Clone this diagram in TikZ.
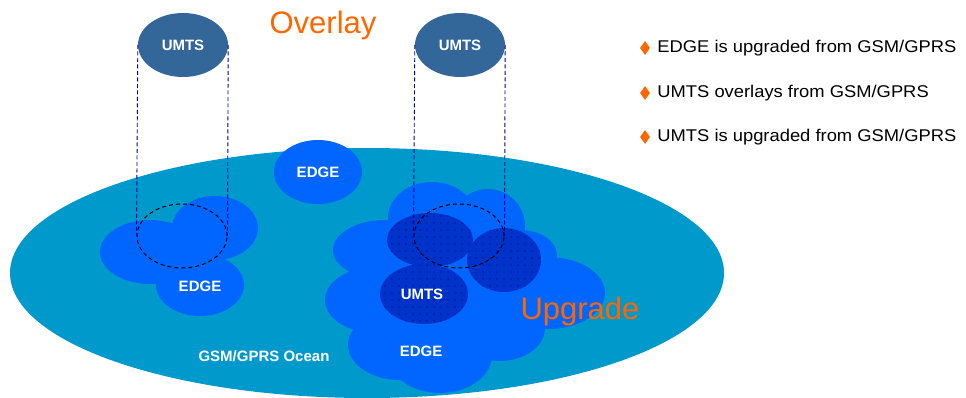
\documentclass[tikz,border=0pt]{standalone}
\usepackage{fontspec}
\setmainfont{Liberation Sans}
\newfontfamily\notefont[FakeStretch=1.08]{Liberation Sans}
\usetikzlibrary{shapes.geometric,positioning,patterns.meta}
\definecolor{ocean}{HTML}{0099CC}
\definecolor{edgeblue}{HTML}{0066FF}
\definecolor{umtsdark}{HTML}{0033CC}
\definecolor{umtstop}{HTML}{336699}
\definecolor{orangetxt}{HTML}{FF6600}
\definecolor{linkblue}{HTML}{000099}
\tikzset{
  lbl/.style={text=white,font=\fontsize{15}{18}\selectfont\bfseries},
  topcell/.style={ellipse,fill=umtstop,minimum width=90pt,minimum height=64pt,inner sep=0pt},
  ring/.style={ellipse,draw=black,line width=1pt,dash pattern=on 4pt off 3pt,
    minimum width=90pt,minimum height=64pt,inner sep=0pt},
  link/.style={draw=linkblue,line width=0.9pt,dash pattern=on 4pt off 2.5pt},
  bigword/.style={text=orangetxt,font=\fontsize{31}{36}\selectfont},
  bullet/.style={diamond,fill=orangetxt,minimum width=10pt,minimum height=14pt,inner sep=0pt},
  item/.style={font=\notefont\fontsize{17}{20}\selectfont,inner sep=0pt,anchor=west}
}
\begin{document}
\begin{tikzpicture}[x=1pt,y=-1pt]
  \useasboundingbox (0,0) rectangle (966,398);
  % the ocean
  \fill[ocean] (367,273) ellipse [x radius=357pt, y radius=125pt];
  % left edge cluster
  \foreach \cx/\cy/\rx/\ry in {150/252/50/32, 215/228/43/32, 200/285/44/31}
    \fill[edgeblue] (\cx,\cy) ellipse [x radius=\rx pt, y radius=\ry pt];
  % lone edge cell
  \fill[edgeblue] (318,172) ellipse [x radius=44pt, y radius=32pt];
  % upgraded cloud
  \foreach \cx/\cy/\rx/\ry in {432/218/44/36, 488/226/37/37, 385/250/52/30,
      375/300/50/33, 400/345/52/35, 440/355/52/38, 500/328/45/33,
      548/293/57/36, 520/255/37/25, 450/290/80/60}
    \fill[edgeblue] (\cx,\cy) ellipse [x radius=\rx pt, y radius=\ry pt];
  \foreach \cx/\cy/\rx/\ry in {430/240/43/27, 504/260/37/32, 424/294/44/30} {
    \fill[umtsdark] (\cx,\cy) ellipse [x radius=\rx pt, y radius=\ry pt];
    \fill[pattern={Dots[distance=7pt,radius=0.7pt]},pattern color=black!75!linkblue]
      (\cx,\cy) ellipse [x radius=\rx pt, y radius=\ry pt];
  }
  % labels
  \node[lbl] (edgeA) at (200,286) {EDGE};
  \node[lbl] (edgeB) at (318,172) {EDGE};
  \node[lbl] (edgeC) at (421,351) {EDGE};
  \node[lbl] (umtsC) at (422,294) {UMTS};
  \node[lbl] (ocean) at (264,356) {GSM/GPRS Ocean};
  \node[bigword] (overlay) at (323,25) {Overlay};
  \node[bigword] (upgrade) at (580,311) {Upgrade};
  % overlay cells
  \node[ring] (ringA) at (182,236) {};
  \node[ring] (ringB) at (459,236) {};
  \node[topcell,lbl] (umtsA) at (183,45) {UMTS};
  \node[topcell,lbl] (umtsB) at (460,45) {UMTS};
  \draw[link] (umtsA.west) -- (ringA.west);
  \draw[link] (umtsA.east) -- (ringA.east);
  \draw[link] (umtsB.west) -- (ringB.west);
  \draw[link] (umtsB.east) -- (ringB.east);
  % notes
  \node[bullet] (b1) at (645,48) {};
  \node[bullet] (b2) at (645,93) {};
  \node[bullet] (b3) at (645,137) {};
  \node[item,right=7pt of b1] (t1) {EDGE is upgraded from GSM/GPRS};
  \node[item,right=7pt of b2] (t2) {UMTS overlays from GSM/GPRS};
  \node[item,right=7pt of b3] (t3) {UMTS is upgraded from GSM/GPRS};
\end{tikzpicture}
\end{document}
